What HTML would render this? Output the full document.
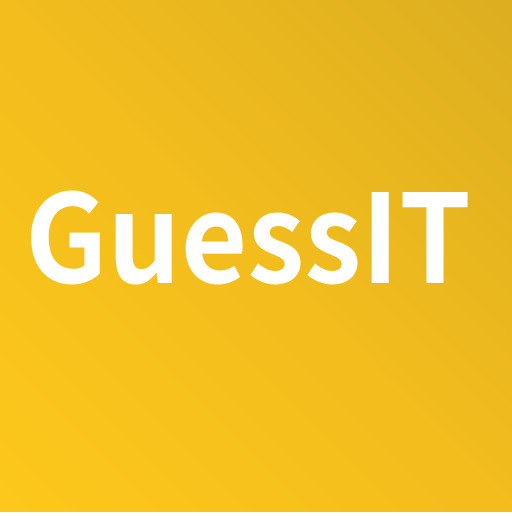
<!DOCTYPE html>
<html>
<head>
<meta charset="utf-8">
<style>
  html, body { margin: 0; padding: 0; }
  body { width: 512px; height: 512px; overflow: hidden; }
  #logo {
    width: 512px; height: 512px;
    background: linear-gradient(45deg, #fdc81b 0%, #f2bd1d 50%, #dcae20 100%);
  }
</style>
</head>
<body>
<div id="logo">
  <svg width="512" height="512" viewBox="0 0 512 512">
    <text x="25" y="283" textLength="446" lengthAdjust="spacingAndGlyphs"
      font-family="'Noto Sans CJK JP', 'Liberation Sans', sans-serif"
      font-weight="600" font-size="123" fill="#ffffff"
     >GuessIT</text>
  </svg>
</div>
</body>
</html>
